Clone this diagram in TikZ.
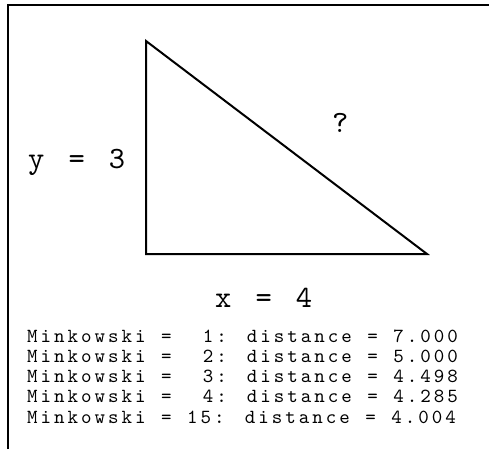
\documentclass[tikz,border=0pt]{standalone}
\usepackage{fontspec}
\usepackage{tikz}
\usetikzlibrary{positioning}
\newfontfamily\spacedmono[LetterSpace=15, WordSpace=1.286]{lmmono10-regular.otf}
\newfontfamily\resultmono[LetterSpace=15, WordSpace=1.15]{lmmono10-regular.otf}
\newcommand{\labelfont}{\spacedmono\fontsize{31}{36}\selectfont}
\newcommand{\resultfont}{\resultmono\fontsize{20}{22}\selectfont}

\begin{document}
\begin{tikzpicture}[
    x=1pt, y=-1pt,
    frame/.style={line width=2pt},
    side/.style={line width=2pt, line join=miter},
    sidelabel/.style={font=\labelfont, inner sep=0pt, anchor=base west},
    result/.style={font=\resultfont, inner sep=0pt, anchor=base west}
]
    \useasboundingbox (0,0) rectangle (489,449);
    % frame of the plot area
    \coordinate (fbl) at (8,449);
    \coordinate (ftl) at (8,5);
    \coordinate (ftr) at (489,5);
    \draw[frame] (fbl) -- (ftl) -- (ftr);

    % right triangle, legs 3 and 4
    \coordinate (top) at (146,41);
    \coordinate (corner) at (146,254);
    \coordinate (tip) at (427,254);
    \draw[side] (top) -- (corner) -- (tip) -- cycle;

    \node[sidelabel] (ylab) at (28,168) {y = 3};
    \node[sidelabel] (xlab) at (215,307) {x = 4};
    \node[sidelabel] (hyp) at (332,133) {?};

    % distances for several p
    \node[result] (pone) at (27,342) {Minkowski = ~1: distance = 7.000};
    \node[result] (ptwo) at (27,362.25) {Minkowski = ~2: distance = 5.000};
    \node[result] (pthree) at (27,382.5) {Minkowski = ~3: distance = 4.498};
    \node[result] (pfour) at (27,402.75) {Minkowski = ~4: distance = 4.285};
    \node[result] (pfifteen) at (27,423) {Minkowski = 15: distance = 4.004};
\end{tikzpicture}
\end{document}
